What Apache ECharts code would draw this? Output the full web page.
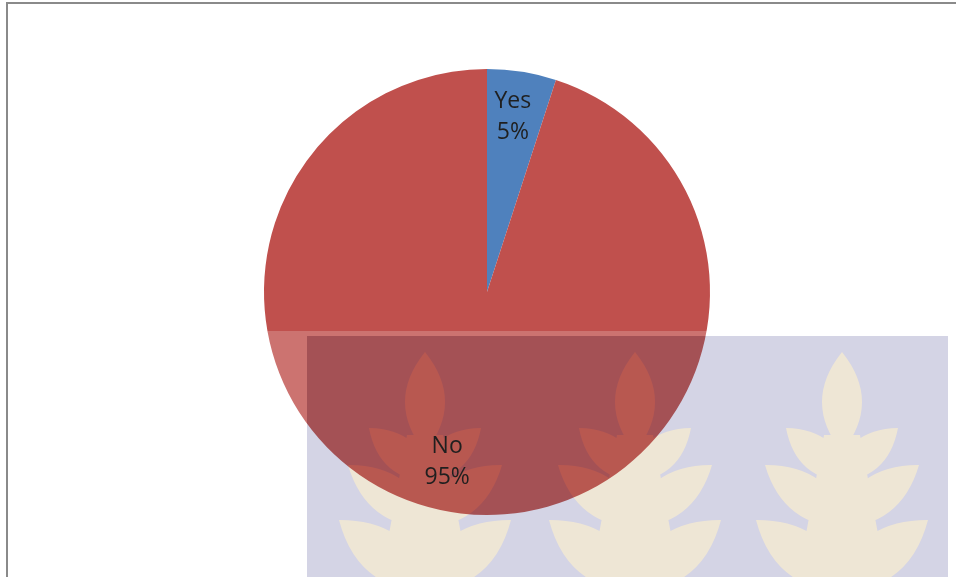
<!DOCTYPE html>
<html>
<head>
<meta charset="utf-8">
<script src="https://cdn.jsdelivr.net/npm/echarts@6/dist/echarts.min.js"></script>
<style>
  html, body { margin: 0; padding: 0; background: #fff; }
  #chartPie { width: 956px; height: 577px; }
</style>
</head>
<body>
<div id="chartPie"></div>
<script type="text/javascript">
	var categories = ['Yes', 'No'];
	var answerValues = [5, 95];
	var sliceColors = ['#4f81bd', '#c0504d'];

	// watermark trees (background picture in the original screenshot)
	var treeCentersX = [425, 635, 842];

	function leaf(ctx, bx, by, tx, ty, w) {
		var dx = tx - bx, dy = ty - by;
		var len = Math.sqrt(dx * dx + dy * dy);
		var nx = -dy / len * w, ny = dx / len * w;
		var mx = bx + dx / 2, my = by + dy / 2;
		ctx.moveTo(bx, by);
		ctx.quadraticCurveTo(mx + nx, my + ny, tx, ty);
		ctx.quadraticCurveTo(mx - nx, my - ny, bx, by);
		ctx.closePath();
	}
	var TreeShape = echarts.graphic.extendShape({
		shape: { cx: 0 },
		buildPath: function (ctx, shape) {
			var cx = shape.cx;
			leaf(ctx, cx, 452, cx, 352, 40);
			leaf(ctx, cx + 8, 482, cx - 56, 428, 34);
			leaf(ctx, cx - 8, 482, cx + 56, 428, 34);
			leaf(ctx, cx + 8, 528, cx - 77, 465, 40);
			leaf(ctx, cx - 8, 528, cx + 77, 465, 40);
			leaf(ctx, cx + 8, 592, cx - 86, 520, 46);
			leaf(ctx, cx - 8, 592, cx + 86, 520, 46);
			ctx.moveTo(cx - 18, 435);
			ctx.lineTo(cx - 48, 600);
			ctx.lineTo(cx + 48, 600);
			ctx.lineTo(cx + 18, 435);
			ctx.closePath();
		}
	});
	echarts.graphic.registerShape('watermarkTree', TreeShape);

	var pieData = categories.map(function (c, i) {
		return { name: c, value: answerValues[i], itemStyle: { color: sliceColors[i] } };
	});
	var labelData = categories.map(function (c, i) {
		return {
			name: c, value: answerValues[i],
			label: { offset: i === 1 ? [-12, -6] : [-2, 1] }
		};
	});

	var graphics = [
		{
			type: 'rect', z: 100, silent: true,
			shape: { x: 222, y: 331, width: 740, height: 5 },
			style: { fill: 'rgba(255,255,255,0.2)' }
		},
		{
			type: 'rect', z: 100, silent: true,
			shape: { x: 222, y: 336, width: 85, height: 245 },
			style: { fill: 'rgba(255,255,255,0.2)' }
		},
		{
			type: 'rect', z: 100, silent: true,
			shape: { x: 307, y: 336, width: 641, height: 245 },
			style: { fill: 'rgba(255,255,255,0.1)' }
		},
		{
			type: 'rect', z: 101, silent: true,
			shape: { x: 307, y: 336, width: 641, height: 245 },
			style: { fill: '#d4d4e5', blend: 'multiply' }
		}
	];
	treeCentersX.forEach(function (cx) {
		graphics.push({
			type: 'watermarkTree', z: 102, silent: true,
			shape: { cx: cx },
			style: { fill: 'rgb(28,22,0)', blend: 'color-dodge' }
		});
		graphics.push({
			type: 'watermarkTree', z: 103, silent: true,
			shape: { cx: cx },
			style: { fill: 'rgb(255,253,238)', blend: 'multiply' }
		});
	});
	graphics.push({
		type: 'rect', z: 110, silent: true,
		shape: { x: 7, y: 3, width: 1000, height: 700 },
		style: { fill: 'none', stroke: '#8a8a8a', lineWidth: 2 }
	});

	var chartPie = echarts.init(document.getElementById('chartPie'), null, { renderer: 'canvas' });
	var option_pie = {
		animation: false,
		backgroundColor: '#ffffff',
		graphic: { elements: graphics },
		series: [
			{
				name: 'answers',
				type: 'pie',
				center: [487, 292],
				radius: [0, 223],
				startAngle: 90,
				clockwise: true,
				silent: true,
				itemStyle: { borderWidth: 0 },
				label: { show: false },
				labelLine: { show: false },
				data: pieData
			},
			{
				name: 'labels',
				type: 'pie',
				z: 120,
				center: [487, 292],
				radius: [140, 210],
				startAngle: 90,
				clockwise: true,
				silent: true,
				avoidLabelOverlap: false,
				percentPrecision: 0,
				itemStyle: { color: 'rgba(0,0,0,0)', borderWidth: 0 },
				label: {
					show: true,
					position: 'inside',
					formatter: '{b}\n{d}%',
					fontFamily: 'Open Sans',
					fontSize: 23,
					lineHeight: 31,
					color: '#1f1f1f'
				},
				labelLine: { show: false },
				emphasis: { disabled: true },
				data: labelData
			}
		]
	};
	chartPie.setOption(option_pie);
	window.onresize = function() {
		chartPie.resize();
	};
</script>
</body>
</html>
